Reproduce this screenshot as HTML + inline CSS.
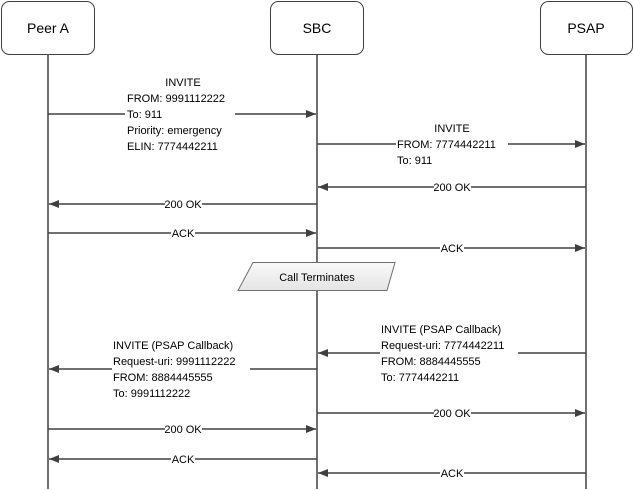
<!DOCTYPE html>
<html><head><meta charset="utf-8"><style>
html,body{margin:0;padding:0;background:#fff;}
svg{display:block;font-family:"Liberation Sans",sans-serif;}
</style></head><body>
<svg width="634" height="490" viewBox="0 0 634 490" xmlns="http://www.w3.org/2000/svg">
<defs>
<marker id="a" markerWidth="10" markerHeight="8" refX="10" refY="4" orient="auto" markerUnits="userSpaceOnUse">
<path d="M0,0 L10,4 L0,8 Z" fill="#404040"/></marker>
<linearGradient id="g" x1="0" y1="0" x2="0" y2="1"><stop offset="0" stop-color="#fafafa"/><stop offset="1" stop-color="#e4e4e4"/></linearGradient>
</defs>
<g fill="#fff" stroke="#404040" stroke-width="1">
<rect x="1.5" y="1.5" width="93" height="53" rx="8"/>
<rect x="270.5" y="1.5" width="93" height="53" rx="8"/>
<rect x="540.5" y="1.5" width="92" height="53" rx="8"/>
</g>
<g font-size="14" fill="#000" text-anchor="middle">
<text x="48" y="33">Peer A</text>
<text x="317" y="33">SBC</text>
<text x="586" y="33">PSAP</text>
</g>
<g stroke="#404040" stroke-width="1.5">
<line x1="48" y1="55" x2="48" y2="489"/>
<line x1="317" y1="55" x2="317" y2="489"/>
<line x1="586" y1="55" x2="586" y2="489"/>
</g>
<g stroke="#404040" stroke-width="1.5" marker-end="url(#a)">
<line x1="48" y1="114" x2="316" y2="114"/>
<line x1="317" y1="144" x2="585" y2="144"/>
<line x1="586" y1="187" x2="318" y2="187"/>
<line x1="317" y1="204" x2="49" y2="204"/>
<line x1="48" y1="233" x2="316" y2="233"/>
<line x1="317" y1="248" x2="585" y2="248"/>
<line x1="586" y1="353" x2="318" y2="353"/>
<line x1="317" y1="369" x2="49" y2="369"/>
<line x1="317" y1="413" x2="585" y2="413"/>
<line x1="48" y1="429" x2="316" y2="429"/>
<line x1="317" y1="459" x2="49" y2="459"/>
<line x1="586" y1="473" x2="318" y2="473"/>
</g>
<g fill="#fff">
<rect x="125" y="75" width="110" height="76"/>
<rect x="396" y="121" width="112" height="45"/>
<rect x="434" y="181" width="37" height="12"/>
<rect x="165" y="198" width="37" height="12"/>
<rect x="171" y="227" width="24" height="12"/>
<rect x="440" y="242" width="24" height="12"/>
<rect x="380" y="321" width="138" height="62"/>
<rect x="112" y="337" width="138" height="62"/>
<rect x="434" y="407" width="37" height="12"/>
<rect x="165" y="423" width="37" height="12"/>
<rect x="171" y="453" width="24" height="12"/>
<rect x="440" y="467" width="24" height="12"/>
</g>
<polygon points="253,262.5 395,262.5 387,290.5 238,290.5" fill="url(#g)" stroke="#707070" stroke-width="1"/>
<g font-size="11" fill="#000">
<text x="183" y="86" text-anchor="middle">INVITE</text>
<text x="127" y="102">FROM: 9991112222</text>
<text x="127" y="118">To: 911</text>
<text x="127" y="134">Priority: emergency</text>
<text x="127" y="150">ELIN: 7774442211</text>
<text x="452" y="132" text-anchor="middle">INVITE</text>
<text x="397" y="148">FROM: 7774442211</text>
<text x="397" y="164">To: 911</text>
<text x="452" y="191" text-anchor="middle">200 OK</text>
<text x="183" y="208" text-anchor="middle">200 OK</text>
<text x="183" y="237" text-anchor="middle">ACK</text>
<text x="452" y="252" text-anchor="middle">ACK</text>
<text x="317" y="281" text-anchor="middle">Call Terminates</text>
<text x="381" y="333">INVITE (PSAP Callback)</text>
<text x="381" y="349">Request-uri: 7774442211</text>
<text x="381" y="365">FROM: 8884445555</text>
<text x="381" y="381">To: 7774442211</text>
<text x="113" y="349">INVITE (PSAP Callback)</text>
<text x="113" y="365">Request-uri: 9991112222</text>
<text x="113" y="381">FROM: 8884445555</text>
<text x="113" y="397">To: 9991112222</text>
<text x="452" y="417" text-anchor="middle">200 OK</text>
<text x="183" y="433" text-anchor="middle">200 OK</text>
<text x="183" y="463" text-anchor="middle">ACK</text>
<text x="452" y="477" text-anchor="middle">ACK</text>
</g>
</svg>
</body></html>
